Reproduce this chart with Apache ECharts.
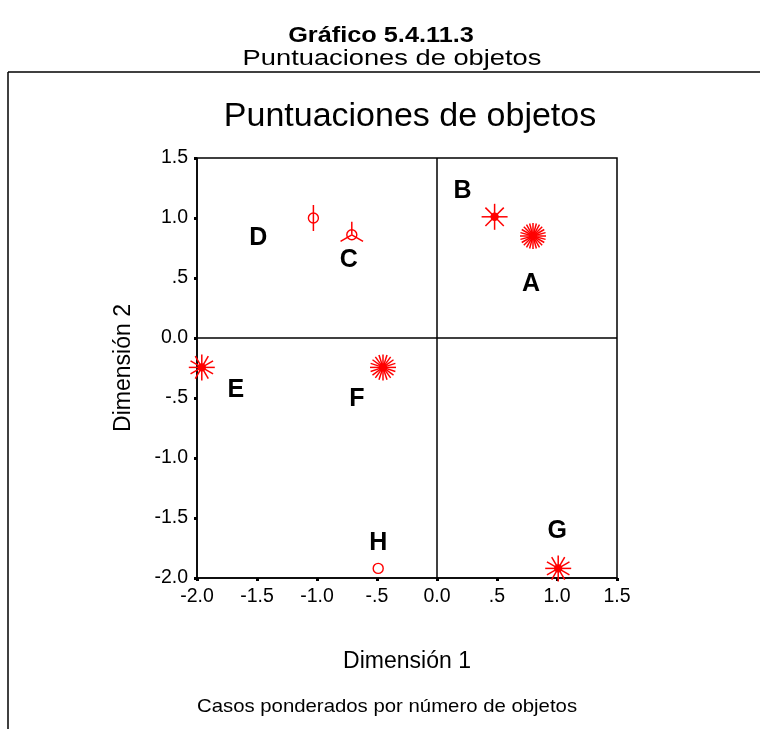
<!DOCTYPE html>
<html>
<head>
<meta charset="utf-8">
<script src="https://cdn.jsdelivr.net/npm/echarts@6/dist/echarts.min.js"></script>
<style>
  html, body { margin: 0; padding: 0; background: #fff; }
  #main { width: 760px; height: 729px; }
</style>
</head>
<body>
<div id="main"></div>
<script>
  // puntuaciones de objetos (Dimensión 1 / Dimensión 2)
  var names = ['A', 'B', 'C', 'D', 'E', 'F', 'G', 'H'];
  var dim1 = [0.80, 0.48, -0.71, -1.03, -1.96, -0.45, 1.01, -0.49];
  var dim2 = [0.85, 1.01, 0.86, 1.00, -0.245, -0.245, -1.92, -1.92];
  // pesos (número de objetos) -> pétalos del girasol
  var weights = [24, 8, 3, 2, 12, 20, 12, 1];
  var xTickLabels = ['-2.0', '-1.5', '-1.0', '-.5', '0.0', '.5', '1.0', '1.5'];
  var yTickLabels = ['-2.0', '-1.5', '-1.0', '-.5', '0.0', '.5', '1.0', '1.5'];

  // desplazamiento de las etiquetas en px (layout)
  var labelOffsets = [[-2, 48], [-32, -26], [-3, 25], [-55, 20], [34, 23], [-26, 32], [-1, -37], [0, -25]];

  var FONT = '"Liberation Sans", Arial, sans-serif';
  var RED = '#ff0000';

  var data = names.map(function (n, i) {
    return [dim1[i], dim2[i], weights[i]];
  });

  function renderItem(params, api) {
    var i = params.dataIndex;
    var p = api.coord([api.value(0), api.value(1)]);
    var n = api.value(2);
    var big = n >= 8;
    var len = 13;
    var children = [];
    if (n > 1) {
      for (var k = 0; k < n; k++) {
        var a = Math.PI / 2 + 2 * Math.PI * k / n;
        children.push({
          type: 'line',
          shape: { x1: p[0], y1: p[1], x2: p[0] + len * Math.cos(a), y2: p[1] - len * Math.sin(a) },
          style: { stroke: RED, lineWidth: 1.5 }
        });
      }
    }
    children.push({
      type: 'circle',
      shape: { cx: p[0], cy: p[1], r: big ? 3.5 : 5 },
      style: { fill: big ? RED : 'none', stroke: RED, lineWidth: 1.4 }
    });
    var off = labelOffsets[i];
    children.push({
      type: 'text',
      x: p[0] + off[0],
      y: p[1] + off[1],
      style: {
        text: names[i], fill: '#000', align: 'center', verticalAlign: 'middle',
        font: 'bold 25px ' + FONT
      }
    });
    return { type: 'group', children: children };
  }

  function tickFmt(labels) {
    return function (v) {
      var idx = Math.round((v + 2) / 0.5);
      return labels[idx] !== undefined ? labels[idx] : '';
    };
  }

  function txt(x, y, s, font, sx) {
    return {
      type: 'text', x: x, y: y, scaleX: sx || 1,
      style: { text: s, font: font, fill: '#000', align: 'center', verticalAlign: 'middle' }
    };
  }

  var myChart = echarts.init(document.getElementById('main'));
  myChart.setOption({
    animation: false,
    backgroundColor: '#fff',
    textStyle: { fontFamily: FONT },
    grid: {
      left: 197, top: 158, width: 420, height: 420,
      show: true, borderColor: '#000', borderWidth: 1.5, backgroundColor: 'transparent'
    },
    xAxis: {
      type: 'value', min: -2, max: 1.5, interval: 0.5,
      name: 'Dimensión 1', nameLocation: 'middle', nameGap: 72,
      nameTextStyle: { color: '#000', fontSize: 23, fontFamily: FONT },
      axisLine: { onZero: false, lineStyle: { color: '#000', width: 1.5 } },
      axisTick: { length: 3, lineStyle: { color: '#000', width: 3 } },
      axisLabel: { color: '#000', fontSize: 19.5, margin: 9, formatter: tickFmt(xTickLabels), fontFamily: FONT },
      splitLine: { show: false }
    },
    yAxis: {
      type: 'value', min: -2, max: 1.5, interval: 0.5,
      name: 'Dimensión 2', nameLocation: 'middle', nameGap: 62,
      nameTextStyle: { color: '#000', fontSize: 23, fontFamily: FONT },
      axisLine: { onZero: false, lineStyle: { color: '#000', width: 1.5 } },
      axisTick: { length: 3, lineStyle: { color: '#000', width: 3 } },
      axisLabel: { color: '#000', fontSize: 19.5, margin: 9, formatter: tickFmt(yTickLabels), fontFamily: FONT },
      splitLine: { show: false }
    },
    graphic: [
      { type: 'line', shape: { x1: 8, y1: 72, x2: 760, y2: 72 }, style: { stroke: '#000', lineWidth: 1.5 } },
      { type: 'line', shape: { x1: 8, y1: 72, x2: 8, y2: 729 }, style: { stroke: '#000', lineWidth: 1.5 } },
      txt(381, 36, 'Gráfico 5.4.11.3', 'bold 22px ' + FONT, 1.15),
      txt(392, 59, 'Puntuaciones de objetos', '22px ' + FONT, 1.24),
      txt(410, 117, 'Puntuaciones de objetos', '34px ' + FONT),
      txt(387, 707, 'Casos ponderados por número de objetos', '18.5px ' + FONT, 1.1)
    ],
    series: [{
      type: 'custom',
      renderItem: renderItem,
      data: data,
      encode: { x: 0, y: 1 },
      clip: false,
      markLine: {
        silent: true,
        symbol: 'none',
        label: { show: false },
        lineStyle: { color: '#000', width: 1.5, type: 'solid' },
        data: [{ xAxis: 0 }, { yAxis: 0 }]
      }
    }]
  });

  window.addEventListener('resize', function () {
    myChart.resize();
  });
</script>
</body>
</html>
